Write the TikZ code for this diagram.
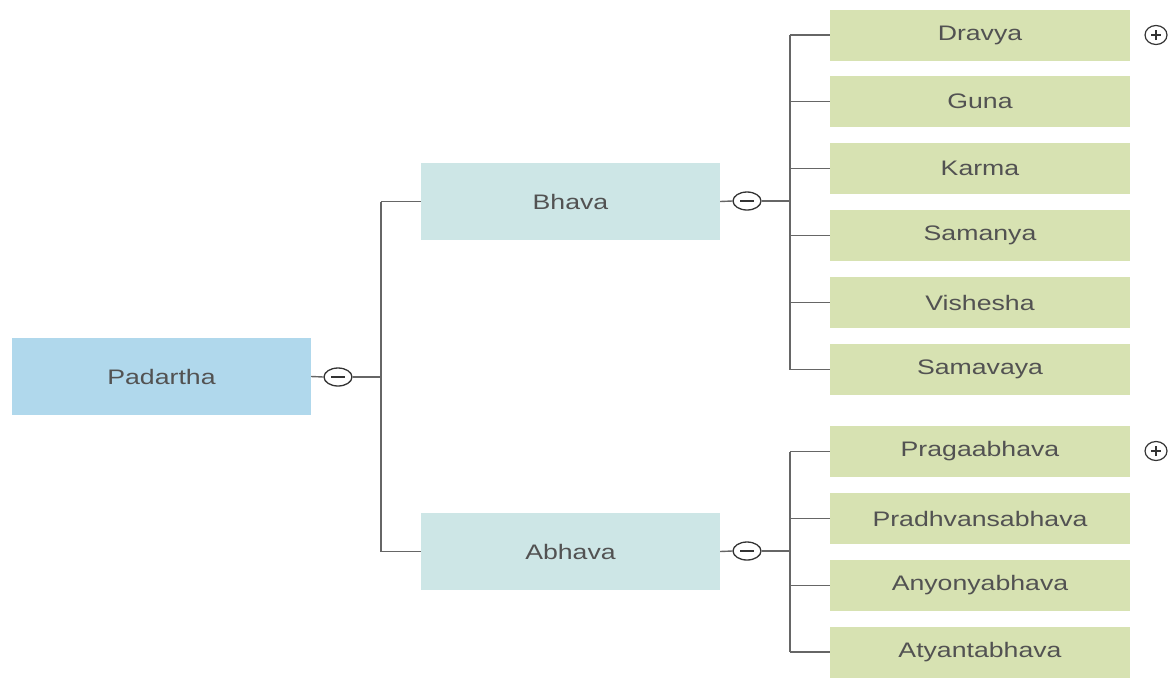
\documentclass[tikz,border=0pt]{standalone}
\usepackage{fontspec}
\setmainfont{Liberation Sans}
\usetikzlibrary{shapes.geometric}
\begin{document}
\begin{tikzpicture}[x=1pt,y=-1pt,
  txt/.style={text=black!68, font=\fontsize{21}{25}\selectfont},
  rootbox/.style={txt, fill={rgb,255:red,176;green,216;blue,236}, minimum width=299pt, minimum height=77pt, inner sep=0pt},
  midbox/.style={txt, fill={rgb,255:red,205;green,230;blue,230}, minimum width=299pt, minimum height=77pt, inner sep=0pt},
  leafbox/.style={txt, fill={rgb,255:red,215;green,226;blue,178}, minimum width=300pt, minimum height=51pt, inner sep=0pt},
  tog/.style={draw=black!80, line width=1.3pt, ellipse, minimum width=28pt, minimum height=18pt, inner sep=0pt},
  plus/.style={draw=black!80, line width=1.2pt, ellipse, minimum width=22pt, minimum height=19pt, inner sep=0pt},
  conn/.style={draw=black!60, line width=1.4pt}
]
\useasboundingbox (0,0) rectangle (1174,678);
\newcommand{\sx}[1]{\scalebox{1.27}[1]{#1}}
% root
\node[rootbox] (pad) at (161.5,376.5) {\sx{Padartha}};
\node[tog] (t0) at (338,377) {};
\coordinate (v0) at (381,377);
% mid
\node[midbox] (bh) at (570.5,201.5) {\sx{Bhava}};
\node[midbox] (ab) at (570.5,551.5) {\sx{Abhava}};
\node[tog] (t1) at (747,201) {};
\node[tog] (t2) at (747,551) {};
\coordinate (v1) at (790,201);
\coordinate (v2) at (790,551);
% leaves
\node[leafbox] (l1) at (980,35) {\sx{Dravya}};
\node[leafbox] (l2) at (980,101.5) {\sx{Guna}};
\node[leafbox] (l3) at (980,168.5) {\sx{Karma}};
\node[leafbox] (l4) at (980,235.5) {\sx{Samanya}};
\node[leafbox] (l5) at (980,302.5) {\sx{Vishesha}};
\node[leafbox] (l6) at (980,369.5) {\sx{Samavaya}};
\node[leafbox] (m1) at (980,451.5) {\sx{Pragaabhava}};
\node[leafbox] (m2) at (980,518.5) {\sx{Pradhvansabhava}};
\node[leafbox] (m3) at (980,585.5) {\sx{Anyonyabhava}};
\node[leafbox] (m4) at (980,652) {\sx{Atyantabhava}};
% plus toggles
\node[plus] (p1) at (1156,35) {};
\node[plus] (p2) at (1156,451) {};
\foreach \p in {p1,p2}{
  \draw[black!80, line width=1.2pt] ([xshift=-5pt]\p.center) -- ([xshift=5pt]\p.center);
  \draw[black!80, line width=1.2pt] ([yshift=-5pt]\p.center) -- ([yshift=5pt]\p.center);
}
\foreach \t in {t0,t1,t2}{
  \draw[black!80, line width=1.3pt] ([xshift=-7pt]\t.center) -- ([xshift=7pt]\t.center);
}
% connectors
\draw[conn] (pad.east) -- (t0.west);
\draw[conn] (t0.east) -- (v0);
\draw[conn] (v0 |- bh.west) -- (v0 |- ab.west);
\draw[conn] (v0 |- bh.west) -- (bh.west);
\draw[conn] (v0 |- ab.west) -- (ab.west);
\draw[conn] (bh.east) -- (t1.west);
\draw[conn] (t1.east) -- (v1);
\draw[conn] (ab.east) -- (t2.west);
\draw[conn] (t2.east) -- (v2);
\draw[conn] (v1 |- l1.west) -- (v1 |- l6.west);
\draw[conn] (v2 |- m1.west) -- (v2 |- m4.west);
\foreach \l in {l1,l2,l3,l4,l5,l6,m1,m2,m3,m4}{
  \draw[conn] (v1 |- \l.west) -- (\l.west);
}
\end{tikzpicture}
\end{document}
